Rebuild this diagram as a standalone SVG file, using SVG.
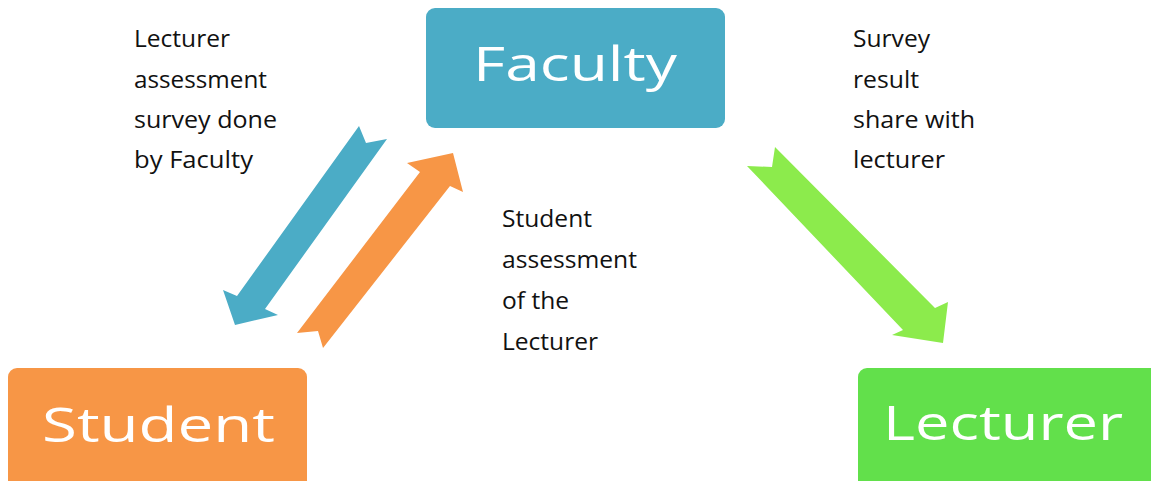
<svg xmlns="http://www.w3.org/2000/svg" width="1151" height="481" viewBox="0 0 1151 481">
  <style>
    .box-label { font-family: "Open Sans", "DejaVu Sans", sans-serif; font-size: 48px; fill: #ffffff; }
    .note { font-family: "Open Sans", "Liberation Sans", sans-serif; font-size: 23px; fill: #111111; }
    .blue { fill: #4BACC6; }
    .orange { fill: #F79646; }
    .green { fill: #62E04B; }
    .green-arrow { fill: #8CEB4C; }
  </style>
  <rect width="1151" height="481" fill="#ffffff"/>

  <!-- Flow arrows between the three parties -->
  <g id="connectors">
    <!-- Faculty to Student (survey) -->
    <polygon class="blue" points="359,126 366,143 387,139 265,309 278,315 235,325 223,290 237,296"/>
    <!-- Student to Faculty (assessment) -->
    <polygon class="orange" points="297,333 318,331 323,348 450,186 463,192 453,153 407,163 420,172"/>
    <!-- Faculty to Lecturer (result) -->
    <polygon class="green-arrow" points="775,147 935,308 948,302 943,343 892,335 903,330 747,166 772,167"/>
  </g>

  <g id="faculty">
    <rect class="blue" x="426" y="8" width="299" height="120" rx="9"/>
    <text class="box-label" x="473" y="81" textLength="204" lengthAdjust="spacingAndGlyphs">Faculty</text>
  </g>

  <g id="student">
    <rect class="orange" x="8" y="368" width="299" height="125" rx="9"/>
    <text class="box-label" x="42" y="442" textLength="233" lengthAdjust="spacingAndGlyphs">Student</text>
  </g>

  <g id="lecturer">
    <rect class="green" x="858" y="368" width="305" height="125" rx="9"/>
    <text class="box-label" x="883" y="440" font-size="51" textLength="240" lengthAdjust="spacingAndGlyphs">Lecturer</text>
  </g>

  <g id="label-faculty-survey" class="note">
    <text x="134" y="47" textLength="96" lengthAdjust="spacingAndGlyphs">Lecturer</text>
    <text x="134" y="88" textLength="133" lengthAdjust="spacingAndGlyphs">assessment</text>
    <text x="134" y="128" textLength="143" lengthAdjust="spacingAndGlyphs">survey done</text>
    <text x="134" y="168" textLength="119" lengthAdjust="spacingAndGlyphs">by Faculty</text>
  </g>

  <g id="label-student-assessment" class="note">
    <text x="502" y="227" textLength="90" lengthAdjust="spacingAndGlyphs">Student</text>
    <text x="502" y="268" textLength="135" lengthAdjust="spacingAndGlyphs">assessment</text>
    <text x="502" y="309" textLength="67" lengthAdjust="spacingAndGlyphs">of the</text>
    <text x="502" y="350" textLength="96" lengthAdjust="spacingAndGlyphs">Lecturer</text>
  </g>

  <g id="label-survey-result" class="note">
    <text x="853" y="47" textLength="77" lengthAdjust="spacingAndGlyphs">Survey</text>
    <text x="853" y="88" textLength="66" lengthAdjust="spacingAndGlyphs">result</text>
    <text x="853" y="128" textLength="122" lengthAdjust="spacingAndGlyphs">share with</text>
    <text x="853" y="168" textLength="92" lengthAdjust="spacingAndGlyphs">lecturer</text>
  </g>
</svg>
